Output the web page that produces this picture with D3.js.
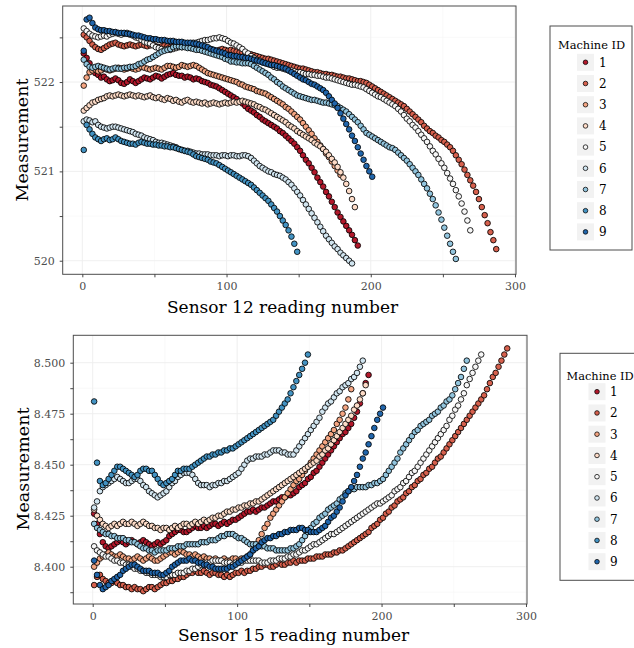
<!DOCTYPE html>
<html>
<head>
<meta charset="utf-8">
<script src="https://cdn.jsdelivr.net/npm/d3@7"></script>
<style>
    html, body { margin: 0; padding: 0; background: #fff; }
    svg { display: block; font-family: "DejaVu Serif", serif; }
</style>
</head>
<body>
<svg id="chart" width="634" height="648"></svg>
<script>
// == Daten ==
const MACHINE_IDS = [1, 2, 3, 4, 5, 6, 7, 8, 9];
// Jede Reihe enthält jeden zweiten Messwert, beginnend bei Messung 1
const FIRST_READING = 1;
const READING_STEP = 2;

// Sensor 12
const s12_m1 = [
    522.32, 522.27, 522.21, 522.15, 522.10, 522.08, 522.05, 522.06, 522.03, 522.01, 522.02, 522.04, 522.02, 521.99, 521.98, 522.00,
    522.03, 522.01, 521.99, 522.01, 522.03, 522.05, 522.04, 522.03, 522.05, 522.07, 522.06, 522.04, 522.06, 522.08, 522.09, 522.10,
    522.08, 522.07, 522.07, 522.05, 522.06, 522.05, 522.03, 522.04, 522.03, 522.01, 522.00, 521.99, 521.97, 521.96, 521.95, 521.93,
    521.91, 521.89, 521.87, 521.85, 521.83, 521.81, 521.78, 521.76, 521.73, 521.70, 521.68, 521.66, 521.63, 521.61, 521.58, 521.56,
    521.54, 521.52, 521.50, 521.48, 521.45, 521.43, 521.40, 521.37, 521.34, 521.31, 521.27, 521.23, 521.18, 521.13, 521.09, 521.04,
    520.99, 520.93, 520.88, 520.83, 520.77, 520.72, 520.66, 520.60, 520.54, 520.49, 520.44, 520.39, 520.34, 520.29, 520.23, 520.17
];
const s12_m2 = [
    522.53, 522.50, 522.46, 522.42, 522.39, 522.37, 522.36, 522.38, 522.40, 522.42, 522.43, 522.44, 522.42, 522.41, 522.40, 522.41,
    522.42, 522.41, 522.40, 522.41, 522.42, 522.41, 522.40, 522.41, 522.42, 522.40, 522.39, 522.40, 522.41, 522.40, 522.39, 522.40,
    522.41, 522.40, 522.39, 522.40, 522.39, 522.38, 522.39, 522.38, 522.37, 522.38, 522.37, 522.36, 522.37, 522.36, 522.35, 522.36,
    522.37, 522.36, 522.35, 522.36, 522.35, 522.34, 522.33, 522.33, 522.32, 522.31, 522.31, 522.30, 522.29, 522.28, 522.27, 522.26,
    522.26, 522.25, 522.24, 522.23, 522.22, 522.21, 522.20, 522.19, 522.18, 522.17, 522.16, 522.15, 522.15, 522.14, 522.13, 522.12,
    522.11, 522.11, 522.10, 522.09, 522.09, 522.08, 522.08, 522.07, 522.06, 522.06, 522.05, 522.04, 522.04, 522.03, 522.02, 522.01,
    522.01, 522.00, 521.99, 521.97, 521.95, 521.93, 521.91, 521.89, 521.87, 521.85, 521.83, 521.81, 521.79, 521.77, 521.75, 521.73,
    521.70, 521.67, 521.64, 521.61, 521.58, 521.55, 521.51, 521.48, 521.45, 521.43, 521.40, 521.38, 521.35, 521.33, 521.30, 521.27,
    521.23, 521.18, 521.13, 521.08, 521.02, 520.96, 520.90, 520.84, 520.77, 520.69, 520.60, 520.51, 520.42, 520.32, 520.23, 520.13
];
const s12_m3 = [
    521.96, 522.05, 522.11, 522.13, 522.14, 522.12, 522.13, 522.15, 522.14, 522.13, 522.14, 522.15, 522.16, 522.15, 522.14,
    522.15, 522.16, 522.15, 522.14, 522.15, 522.17, 522.16, 522.15, 522.14, 522.15, 522.16, 522.15, 522.14, 522.16, 522.18,
    522.18, 522.17, 522.16, 522.17, 522.19, 522.18, 522.17, 522.18, 522.19, 522.18, 522.16, 522.14, 522.12, 522.10, 522.09,
    522.08, 522.07, 522.06, 522.05, 522.04, 522.03, 522.02, 522.01, 522.00, 521.98, 521.97, 521.95, 521.94, 521.93, 521.92,
    521.90, 521.89, 521.88, 521.87, 521.85, 521.83, 521.81, 521.79, 521.77, 521.75, 521.72, 521.70, 521.67, 521.64, 521.61,
    521.58, 521.54, 521.50, 521.46, 521.42, 521.37, 521.33, 521.29, 521.25, 521.20, 521.16, 521.11, 521.06, 521.01, 520.96
];
const s12_m4 = [
    521.68, 521.71, 521.74, 521.77, 521.78, 521.80, 521.81, 521.82, 521.84, 521.85, 521.84, 521.85, 521.86, 521.85, 521.84, 521.85,
    521.86, 521.85, 521.84, 521.85, 521.84, 521.83, 521.84, 521.85, 521.83, 521.82, 521.83, 521.81, 521.80, 521.82, 521.81, 521.79,
    521.80, 521.78, 521.77, 521.79, 521.80, 521.78, 521.77, 521.78, 521.77, 521.76, 521.77, 521.75, 521.76, 521.77, 521.76, 521.75,
    521.76, 521.77, 521.76, 521.77, 521.78, 521.77, 521.78, 521.79, 521.78, 521.77, 521.76, 521.75, 521.73, 521.72, 521.70, 521.69,
    521.67, 521.65, 521.63, 521.61, 521.59, 521.57, 521.55, 521.52, 521.50, 521.48, 521.45, 521.43, 521.41, 521.39, 521.37, 521.35,
    521.32, 521.30, 521.28, 521.25, 521.22, 521.18, 521.14, 521.10, 521.05, 520.99, 520.93, 520.86, 520.78, 520.69, 520.60
];
const s12_m5 = [
    522.60, 522.57, 522.54, 522.52, 522.51, 522.50, 522.51, 522.52, 522.51, 522.53, 522.54, 522.55, 522.54, 522.53, 522.54, 522.55,
    522.53, 522.52, 522.50, 522.49, 522.47, 522.45, 522.44, 522.43, 522.41, 522.39, 522.38, 522.37, 522.36, 522.37, 522.36, 522.37,
    522.38, 522.39, 522.40, 522.41, 522.42, 522.43, 522.44, 522.44, 522.45, 522.46, 522.47, 522.47, 522.48, 522.49, 522.49, 522.50,
    522.49, 522.48, 522.46, 522.44, 522.43, 522.41, 522.39, 522.37, 522.34, 522.32, 522.29, 522.27, 522.25, 522.24, 522.22, 522.21,
    522.20, 522.19, 522.17, 522.16, 522.16, 522.15, 522.14, 522.13, 522.13, 522.12, 522.11, 522.11, 522.10, 522.09, 522.09, 522.08,
    522.08, 522.07, 522.07, 522.06, 522.05, 522.05, 522.04, 522.03, 522.02, 522.01, 522.00, 521.99, 521.98, 521.97, 521.97, 521.96,
    521.95, 521.94, 521.92, 521.90, 521.88, 521.86, 521.84, 521.83, 521.81, 521.79, 521.77, 521.75, 521.73, 521.70, 521.67, 521.63,
    521.59, 521.56, 521.52, 521.49, 521.45, 521.41, 521.37, 521.33, 521.28, 521.23, 521.19, 521.14, 521.09, 521.04, 520.98, 520.92,
    520.86, 520.79, 520.72, 520.64, 520.55, 520.45, 520.34
];
const s12_m6 = [
    521.56, 521.58, 521.57, 521.55, 521.56, 521.52, 521.50, 521.49, 521.48, 521.49, 521.50, 521.50, 521.49, 521.48, 521.47, 521.46,
    521.45, 521.44, 521.42, 521.41, 521.40, 521.38, 521.37, 521.36, 521.35, 521.33, 521.32, 521.32, 521.31, 521.30, 521.29, 521.28,
    521.27, 521.25, 521.24, 521.23, 521.23, 521.22, 521.21, 521.20, 521.20, 521.19, 521.19, 521.19, 521.18, 521.18, 521.18, 521.17,
    521.18, 521.18, 521.17, 521.18, 521.18, 521.17, 521.17, 521.18, 521.18, 521.17, 521.15, 521.12, 521.09, 521.06, 521.04, 521.02,
    521.00, 520.99, 520.97, 520.96, 520.95, 520.93, 520.91, 520.88, 520.85, 520.81, 520.77, 520.73, 520.68, 520.63, 520.58, 520.53,
    520.48, 520.43, 520.38, 520.33, 520.28, 520.24, 520.20, 520.16, 520.13, 520.09, 520.06, 520.03, 520.00, 519.97
];
const s12_m7 = [
    522.25, 522.20, 522.17, 522.16, 522.17, 522.18, 522.17, 522.16, 522.15, 522.14, 522.15, 522.16, 522.15, 522.15, 522.16, 522.16,
    522.17, 522.17, 522.18, 522.20, 522.21, 522.23, 522.25, 522.26, 522.28, 522.30, 522.32, 522.34, 522.35, 522.36, 522.37, 522.39,
    522.40, 522.40, 522.39, 522.39, 522.38, 522.38, 522.37, 522.36, 522.36, 522.35, 522.34, 522.33, 522.32, 522.31, 522.30, 522.29,
    522.28, 522.26, 522.25, 522.23, 522.23, 522.22, 522.22, 522.21, 522.21, 522.21, 522.20, 522.18, 522.16, 522.14, 522.12, 522.10,
    522.08, 522.05, 522.03, 522.00, 521.98, 521.95, 521.93, 521.91, 521.89, 521.87, 521.85, 521.84, 521.83, 521.82, 521.81, 521.80,
    521.80, 521.79, 521.78, 521.77, 521.77, 521.76, 521.75, 521.74, 521.73, 521.71, 521.69, 521.67, 521.64, 521.61, 521.58, 521.55,
    521.51, 521.47, 521.43, 521.41, 521.39, 521.37, 521.35, 521.33, 521.31, 521.29, 521.27, 521.26, 521.24, 521.21, 521.18, 521.15,
    521.12, 521.08, 521.04, 521.00, 520.96, 520.91, 520.86, 520.81, 520.75, 520.69, 520.62, 520.54, 520.46, 520.37, 520.28, 520.19,
    520.10, 520.02
];
const s12_m8 = [
    521.24, 521.52, 521.47, 521.42, 521.38, 521.36, 521.34, 521.36, 521.37, 521.35, 521.36, 521.38, 521.36, 521.34, 521.33, 521.32,
    521.31, 521.31, 521.30, 521.32, 521.33, 521.32, 521.31, 521.31, 521.30, 521.30, 521.29, 521.29, 521.28, 521.28, 521.27, 521.27,
    521.26, 521.25, 521.24, 521.23, 521.22, 521.21, 521.19, 521.17, 521.16, 521.15, 521.14, 521.13, 521.11, 521.10, 521.09, 521.07,
    521.05, 521.03, 521.01, 520.99, 520.97, 520.95, 520.93, 520.91, 520.89, 520.87, 520.85, 520.82, 520.79, 520.76, 520.73, 520.70,
    520.67, 520.63, 520.59, 520.55, 520.50, 520.45, 520.40, 520.34, 520.27, 520.19, 520.10
];
const s12_m9 = [
    522.35, 522.70, 522.72, 522.66, 522.61, 522.59, 522.58, 522.58, 522.57, 522.57, 522.56, 522.56, 522.55, 522.55, 522.55, 522.54,
    522.54, 522.53, 522.52, 522.52, 522.51, 522.50, 522.49, 522.49, 522.48, 522.48, 522.47, 522.47, 522.47, 522.46, 522.46, 522.46,
    522.45, 522.45, 522.45, 522.44, 522.44, 522.44, 522.43, 522.43, 522.42, 522.41, 522.40, 522.39, 522.37, 522.36, 522.35, 522.34,
    522.33, 522.32, 522.30, 522.30, 522.29, 522.29, 522.28, 522.28, 522.27, 522.27, 522.26, 522.25, 522.24, 522.23, 522.22, 522.21,
    522.20, 522.19, 522.19, 522.18, 522.17, 522.16, 522.15, 522.13, 522.11, 522.09, 522.07, 522.05, 522.03, 522.02, 522.00, 521.98,
    521.97, 521.95, 521.93, 521.91, 521.88, 521.84, 521.80, 521.76, 521.71, 521.65, 521.59, 521.53, 521.47, 521.40, 521.34, 521.27,
    521.20, 521.13, 521.06, 521.00, 520.94
];

// Sensor 15
const s15_m1 = [
    8.426, 8.421, 8.416, 8.412, 8.410, 8.409, 8.410, 8.411, 8.412, 8.413, 8.412, 8.411, 8.412, 8.413, 8.412, 8.411,
    8.412, 8.413, 8.412, 8.411, 8.410, 8.411, 8.412, 8.411, 8.412, 8.413, 8.415, 8.416, 8.417, 8.418, 8.418, 8.417,
    8.417, 8.418, 8.419, 8.420, 8.419, 8.419, 8.420, 8.419, 8.420, 8.421, 8.421, 8.420, 8.421, 8.422, 8.421, 8.422,
    8.423, 8.423, 8.424, 8.425, 8.426, 8.427, 8.427, 8.428, 8.427, 8.428, 8.429, 8.429, 8.430, 8.431, 8.432, 8.432,
    8.433, 8.434, 8.434, 8.435, 8.435, 8.436, 8.437, 8.439, 8.440, 8.441, 8.443, 8.444, 8.446, 8.447, 8.449, 8.451,
    8.453, 8.455, 8.457, 8.459, 8.461, 8.463, 8.465, 8.466, 8.468, 8.470, 8.473, 8.476, 8.480, 8.485, 8.490, 8.494
];
const s15_m2 = [
    8.391, 8.395, 8.396, 8.394, 8.393, 8.392, 8.392, 8.393, 8.392, 8.391, 8.391, 8.390, 8.390, 8.389, 8.390, 8.389,
    8.389, 8.388, 8.389, 8.390, 8.390, 8.389, 8.390, 8.391, 8.392, 8.392, 8.393, 8.393, 8.394, 8.394, 8.395, 8.395,
    8.396, 8.397, 8.397, 8.398, 8.397, 8.397, 8.398, 8.397, 8.396, 8.397, 8.397, 8.396, 8.396, 8.395, 8.396, 8.395,
    8.396, 8.397, 8.397, 8.398, 8.397, 8.398, 8.398, 8.399, 8.399, 8.400, 8.400, 8.401, 8.401, 8.400, 8.400, 8.401,
    8.402, 8.401, 8.401, 8.402, 8.402, 8.403, 8.402, 8.403, 8.403, 8.403, 8.404, 8.404, 8.404, 8.405, 8.405, 8.405,
    8.406, 8.406, 8.406, 8.407, 8.407, 8.408, 8.408, 8.409, 8.410, 8.411, 8.412, 8.413, 8.414, 8.415, 8.416, 8.417,
    8.419, 8.420, 8.421, 8.423, 8.424, 8.426, 8.427, 8.429, 8.430, 8.432, 8.433, 8.434, 8.436, 8.437, 8.439, 8.440,
    8.442, 8.443, 8.445, 8.446, 8.448, 8.449, 8.451, 8.453, 8.454, 8.456, 8.458, 8.460, 8.462, 8.464, 8.466, 8.468,
    8.470, 8.472, 8.474, 8.476, 8.478, 8.480, 8.482, 8.484, 8.487, 8.490, 8.493, 8.495, 8.498, 8.501, 8.504, 8.507
];
const s15_m3 = [
    8.400, 8.402, 8.404, 8.405, 8.406, 8.407, 8.406, 8.405, 8.405, 8.406, 8.405, 8.404, 8.404, 8.403, 8.404,
    8.405, 8.404, 8.403, 8.404, 8.405, 8.404, 8.403, 8.403, 8.404, 8.405, 8.406, 8.407, 8.407, 8.406, 8.407,
    8.408, 8.407, 8.406, 8.406, 8.405, 8.406, 8.405, 8.404, 8.405, 8.404, 8.404, 8.403, 8.404, 8.403, 8.403,
    8.404, 8.403, 8.403, 8.404, 8.404, 8.403, 8.404, 8.404, 8.405, 8.406, 8.408, 8.410, 8.413, 8.416, 8.419,
    8.421, 8.424, 8.426, 8.428, 8.430, 8.432, 8.434, 8.436, 8.438, 8.440, 8.442, 8.443, 8.445, 8.447, 8.449,
    8.451, 8.453, 8.455, 8.457, 8.459, 8.461, 8.463, 8.465, 8.467, 8.470, 8.472, 8.475, 8.478, 8.482, 8.487
];
const s15_m4 = [
    8.428, 8.425, 8.423, 8.421, 8.420, 8.419, 8.420, 8.421, 8.420, 8.421, 8.422, 8.421, 8.421, 8.422, 8.421, 8.420,
    8.421, 8.422, 8.421, 8.420, 8.420, 8.419, 8.419, 8.418, 8.419, 8.419, 8.418, 8.419, 8.420, 8.419, 8.420, 8.421,
    8.421, 8.420, 8.421, 8.422, 8.421, 8.422, 8.423, 8.422, 8.423, 8.424, 8.424, 8.425, 8.425, 8.426, 8.427, 8.427,
    8.428, 8.428, 8.429, 8.429, 8.430, 8.430, 8.431, 8.431, 8.432, 8.432, 8.433, 8.434, 8.435, 8.436, 8.437, 8.438,
    8.439, 8.440, 8.441, 8.442, 8.443, 8.444, 8.445, 8.446, 8.447, 8.448, 8.449, 8.450, 8.451, 8.452, 8.454, 8.455,
    8.457, 8.458, 8.460, 8.462, 8.464, 8.466, 8.468, 8.470, 8.472, 8.474, 8.477, 8.479, 8.482, 8.485, 8.489
];
const s15_m5 = [
    8.410, 8.408, 8.407, 8.406, 8.405, 8.405, 8.404, 8.403, 8.403, 8.402, 8.402, 8.401, 8.401, 8.400, 8.399, 8.399,
    8.398, 8.398, 8.397, 8.397, 8.396, 8.396, 8.396, 8.395, 8.395, 8.395, 8.396, 8.396, 8.396, 8.397, 8.397, 8.397,
    8.398, 8.398, 8.399, 8.399, 8.400, 8.401, 8.401, 8.402, 8.402, 8.403, 8.403, 8.403, 8.403, 8.402, 8.402, 8.402,
    8.401, 8.402, 8.402, 8.402, 8.403, 8.403, 8.403, 8.403, 8.403, 8.403, 8.402, 8.402, 8.402, 8.403, 8.403, 8.403,
    8.404, 8.404, 8.404, 8.405, 8.405, 8.406, 8.406, 8.407, 8.408, 8.408, 8.409, 8.410, 8.411, 8.411, 8.412, 8.413,
    8.414, 8.415, 8.416, 8.416, 8.417, 8.418, 8.419, 8.420, 8.421, 8.422, 8.423, 8.424, 8.425, 8.426, 8.427, 8.428,
    8.429, 8.430, 8.431, 8.431, 8.432, 8.433, 8.434, 8.435, 8.437, 8.438, 8.439, 8.441, 8.442, 8.444, 8.446, 8.447,
    8.449, 8.451, 8.453, 8.455, 8.457, 8.459, 8.461, 8.463, 8.465, 8.467, 8.469, 8.472, 8.474, 8.477, 8.479, 8.482,
    8.485, 8.489, 8.492, 8.495, 8.498, 8.501, 8.504
];
const s15_m6 = [
    8.429, 8.432, 8.437, 8.439, 8.440, 8.441, 8.442, 8.443, 8.444, 8.443, 8.442, 8.441, 8.441, 8.442, 8.443, 8.443,
    8.442, 8.440, 8.439, 8.437, 8.436, 8.435, 8.434, 8.435, 8.436, 8.437, 8.439, 8.441, 8.442, 8.444, 8.445, 8.446,
    8.446, 8.446, 8.445, 8.443, 8.441, 8.440, 8.440, 8.440, 8.439, 8.440, 8.440, 8.441, 8.441, 8.442, 8.442, 8.443,
    8.444, 8.445, 8.446, 8.448, 8.450, 8.452, 8.453, 8.453, 8.454, 8.454, 8.454, 8.455, 8.455, 8.456, 8.457, 8.457,
    8.457, 8.456, 8.456, 8.455, 8.455, 8.455, 8.457, 8.459, 8.461, 8.463, 8.465, 8.467, 8.469, 8.471, 8.473, 8.476,
    8.478, 8.480, 8.481, 8.483, 8.485, 8.486, 8.488, 8.489, 8.490, 8.492, 8.493, 8.495, 8.498, 8.501
];
const s15_m7 = [
    8.421, 8.419, 8.418, 8.417, 8.416, 8.416, 8.415, 8.415, 8.414, 8.414, 8.414, 8.413, 8.413, 8.412, 8.412, 8.411,
    8.410, 8.409, 8.409, 8.408, 8.408, 8.407, 8.408, 8.408, 8.408, 8.408, 8.409, 8.409, 8.409, 8.410, 8.410, 8.410,
    8.411, 8.411, 8.411, 8.411, 8.411, 8.412, 8.412, 8.412, 8.413, 8.413, 8.413, 8.414, 8.415, 8.415, 8.416, 8.416,
    8.416, 8.415, 8.414, 8.414, 8.413, 8.412, 8.411, 8.411, 8.411, 8.410, 8.410, 8.410, 8.409, 8.409, 8.409, 8.408,
    8.408, 8.408, 8.408, 8.408, 8.409, 8.409, 8.410, 8.411, 8.413, 8.415, 8.417, 8.419, 8.421, 8.422, 8.424, 8.425,
    8.426, 8.428, 8.429, 8.430, 8.431, 8.433, 8.434, 8.436, 8.437, 8.438, 8.438, 8.439, 8.439, 8.439, 8.439, 8.440,
    8.440, 8.441, 8.441, 8.442, 8.443, 8.445, 8.447, 8.449, 8.451, 8.453, 8.456, 8.458, 8.460, 8.462, 8.464, 8.466,
    8.467, 8.469, 8.470, 8.471, 8.472, 8.474, 8.475, 8.476, 8.478, 8.479, 8.481, 8.482, 8.484, 8.487, 8.490, 8.493,
    8.497, 8.501
];
const s15_m8 = [
    8.481, 8.451, 8.442, 8.440, 8.441, 8.443, 8.445, 8.447, 8.449, 8.449, 8.448, 8.447, 8.446, 8.445, 8.444, 8.445,
    8.447, 8.448, 8.448, 8.447, 8.447, 8.445, 8.443, 8.441, 8.440, 8.441, 8.442, 8.443, 8.445, 8.447, 8.447, 8.448,
    8.448, 8.448, 8.449, 8.450, 8.451, 8.452, 8.453, 8.454, 8.454, 8.455, 8.455, 8.456, 8.456, 8.457, 8.457, 8.458,
    8.458, 8.459, 8.460, 8.461, 8.462, 8.463, 8.464, 8.465, 8.466, 8.467, 8.468, 8.469, 8.470, 8.471, 8.472, 8.474,
    8.476, 8.478, 8.480, 8.482, 8.485, 8.488, 8.491, 8.494, 8.497, 8.500, 8.504
];
const s15_m9 = [
    8.403, 8.396, 8.391, 8.389, 8.390, 8.391, 8.393, 8.394, 8.395, 8.396, 8.398, 8.399, 8.400, 8.401, 8.401, 8.400,
    8.399, 8.398, 8.398, 8.398, 8.397, 8.397, 8.397, 8.396, 8.396, 8.397, 8.398, 8.400, 8.401, 8.402, 8.403, 8.403,
    8.403, 8.404, 8.403, 8.403, 8.402, 8.402, 8.401, 8.401, 8.400, 8.400, 8.399, 8.399, 8.399, 8.399, 8.399, 8.400,
    8.400, 8.401, 8.402, 8.403, 8.404, 8.405, 8.406, 8.408, 8.409, 8.410, 8.412, 8.413, 8.414, 8.414, 8.415, 8.415,
    8.416, 8.416, 8.417, 8.417, 8.418, 8.418, 8.418, 8.419, 8.419, 8.418, 8.418, 8.417, 8.417, 8.417, 8.418, 8.419,
    8.420, 8.422, 8.424, 8.425, 8.427, 8.429, 8.432, 8.435, 8.437, 8.439, 8.442, 8.445, 8.449, 8.453, 8.456, 8.460,
    8.464, 8.468, 8.472, 8.475, 8.478
];

const SENSOR_12 = [s12_m1, s12_m2, s12_m3, s12_m4, s12_m5, s12_m6, s12_m7, s12_m8, s12_m9];
const SENSOR_15 = [s15_m1, s15_m2, s15_m3, s15_m4, s15_m5, s15_m6, s15_m7, s15_m8, s15_m9];

// Achsenbeschriftungen
const X_TICKS = [0, 100, 200, 300];
const X_MINOR = [50, 150, 250];
const S12_TICKS = [520, 521, 522];
const S12_MINOR = [520.5, 521.5, 522.5];
const S15_TICKS = [8.400, 8.425, 8.450, 8.475, 8.500];
const S15_MINOR = [8.3875, 8.4125, 8.4375, 8.4625, 8.4875];

// == Farben (RdBu, 9 Stufen, rot -> blau) ==
const COLORS = ['#b2182b', '#d6604d', '#f4a582', '#fddbc7', '#f7f7f7', '#d1e5f0', '#92c5de', '#4393c3', '#2166ac'];
const color = d3.scaleOrdinal().domain(MACHINE_IDS).range(COLORS);

const FONT = '"DejaVu Serif", serif';
const svg = d3.select('#chart');

/**
 * Achse im Stil von theme_bw anpassen
 */
function styleAxis(sel) {
    sel.attr('font-family', FONT).attr('font-size', null);
    sel.select('.domain').remove();
    sel.selectAll('line').attr('stroke', '#333').attr('stroke-width', 0.9);
    sel.selectAll('text').attr('fill', '#4d4d4d').style('font-size', '11px');
}

/**
 * Zeichnet ein Panel mit Punkten, Achsen und Legende
 * @param cfg Position, Skalen und Daten des Panels
 */
function drawPanel(cfg) {
    const g = svg.append('g');
    const x = d3.scaleLinear().domain(cfg.xDomain).range([cfg.left, cfg.right]);
    const y = d3.scaleLinear().domain(cfg.yDomain).range([cfg.bottom, cfg.top]);

    // Gitter (minor, dann major)
    const grid = g.append('g');
    grid.selectAll('.vmin').data(X_MINOR).enter().append('line')
        .attr('x1', d => x(d)).attr('x2', d => x(d)).attr('y1', cfg.top).attr('y2', cfg.bottom)
        .attr('stroke', '#f5f5f5').attr('stroke-width', 0.6);
    grid.selectAll('.hmin').data(cfg.yMinor).enter().append('line')
        .attr('x1', cfg.left).attr('x2', cfg.right).attr('y1', d => y(d)).attr('y2', d => y(d))
        .attr('stroke', '#f5f5f5').attr('stroke-width', 0.6);
    grid.selectAll('.vmaj').data(X_TICKS).enter().append('line')
        .attr('x1', d => x(d)).attr('x2', d => x(d)).attr('y1', cfg.top).attr('y2', cfg.bottom)
        .attr('stroke', '#ededed').attr('stroke-width', 0.9);
    grid.selectAll('.hmaj').data(cfg.yTicks).enter().append('line')
        .attr('x1', cfg.left).attr('x2', cfg.right).attr('y1', d => y(d)).attr('y2', d => y(d))
        .attr('stroke', '#ededed').attr('stroke-width', 0.9);

    // Punkte: Maschine 1 zuerst, Maschine 9 liegt oben
    const points = [];
    cfg.series.forEach((values, i) => {
        values.forEach((value, j) => {
            points.push({machine: MACHINE_IDS[i], reading: FIRST_READING + j * READING_STEP, value: value});
        });
    });
    g.append('g')
        .selectAll('circle')
        .data(points)
        .enter()
        .append('circle')
        .attr('cx', d => x(d.reading))
        .attr('cy', d => y(d.value))
        .attr('r', 2.8)
        .attr('fill', d => color(d.machine))
        .attr('stroke', '#000')
        .attr('stroke-width', 0.85);

    // Rahmen
    g.append('rect')
        .attr('x', cfg.left).attr('y', cfg.top)
        .attr('width', cfg.right - cfg.left).attr('height', cfg.bottom - cfg.top)
        .attr('fill', 'none').attr('stroke', '#4d4d4d').attr('stroke-width', 1);

    // Achsen
    const gx = g.append('g').attr('transform', `translate(0,${cfg.bottom})`)
        .call(d3.axisBottom(x).tickValues(X_TICKS).tickSize(3).tickPadding(5).tickFormat(d3.format('d')));
    styleAxis(gx);
    const gxm = g.append('g').attr('transform', `translate(0,${cfg.bottom})`)
        .call(d3.axisBottom(x).tickValues(X_MINOR).tickSize(3).tickFormat(''));
    styleAxis(gxm);
    const gy = g.append('g').attr('transform', `translate(${cfg.left},0)`)
        .call(d3.axisLeft(y).tickValues(cfg.yTicks).tickSize(3).tickPadding(5).tickFormat(cfg.yFormat));
    styleAxis(gy);
    const gym = g.append('g').attr('transform', `translate(${cfg.left},0)`)
        .call(d3.axisLeft(y).tickValues(cfg.yMinor).tickSize(3).tickFormat(''));
    styleAxis(gym);

    // Achsentitel
    g.append('text')
        .attr('x', cfg.xTitle[0]).attr('y', cfg.xTitle[1])
        .attr('text-anchor', 'middle')
        .style('font-size', '17px')
        .text(cfg.xLabel);
    g.append('text')
        .attr('transform', `translate(${cfg.yTitle[0]},${cfg.yTitle[1]}) rotate(-90)`)
        .attr('text-anchor', 'middle')
        .style('font-size', '17.5px')
        .text('Measurement');

    // Legende
    const L = cfg.legend;
    const lg = svg.append('g');
    lg.append('rect')
        .attr('x', L.x).attr('y', L.y).attr('width', L.w).attr('height', L.h)
        .attr('fill', '#fff').attr('stroke', '#4d4d4d').attr('stroke-width', 1);
    lg.append('text')
        .attr('x', L.titleX).attr('y', L.titleY)
        .style('font-size', '11.4px')
        .text('Machine ID');
    const items = lg.selectAll('g.item')
        .data(MACHINE_IDS)
        .enter()
        .append('g')
        .attr('transform', (d, i) => `translate(0,${L.firstY + i * L.step})`);
    items.append('rect')
        .attr('x', L.keyX - 8.5).attr('y', -8.5).attr('width', 17).attr('height', 17)
        .attr('fill', '#f2f2f2');
    items.append('circle')
        .attr('cx', L.keyX).attr('cy', 0).attr('r', 2.3)
        .attr('fill', d => color(d)).attr('stroke', '#000').attr('stroke-width', 0.75);
    items.append('text')
        .attr('x', L.labelX).attr('dy', '0.36em')
        .style('font-size', '12px')
        .text(d => d);
}

// == Panel 1: Sensor 12 ==
drawPanel({
    series: SENSOR_12,
    left: 62.7, right: 516, top: 6, bottom: 274.3,
    xDomain: [-13.6, 300.7],
    yDomain: [519.848, 522.851],
    yTicks: S12_TICKS,
    yMinor: S12_MINOR,
    yFormat: d3.format('d'),
    xLabel: 'Sensor 12 reading number',
    xTitle: [282.5, 313],
    yTitle: [28, 140],
    legend: {x: 550, y: 26, w: 82, h: 224, titleX: 558, titleY: 49, firstY: 62.3, step: 21.2, keyX: 585.5, labelX: 599}
});

// == Panel 2: Sensor 15 ==
drawPanel({
    series: SENSOR_15,
    left: 73.3, right: 527, top: 335.3, bottom: 604,
    xDomain: [-13.43, 300.7],
    yDomain: [8.38172, 8.51343],
    yTicks: S15_TICKS,
    yMinor: S15_MINOR,
    yFormat: d3.format('.3f'),
    xLabel: 'Sensor 15 reading number',
    xTitle: [293.5, 641],
    yTitle: [28.5, 469],
    legend: {x: 560, y: 353.3, w: 90, h: 227, titleX: 566.5, titleY: 380, firstY: 391.7, step: 21.25, keyX: 597, labelX: 610}
});
</script>
</body>
</html>
